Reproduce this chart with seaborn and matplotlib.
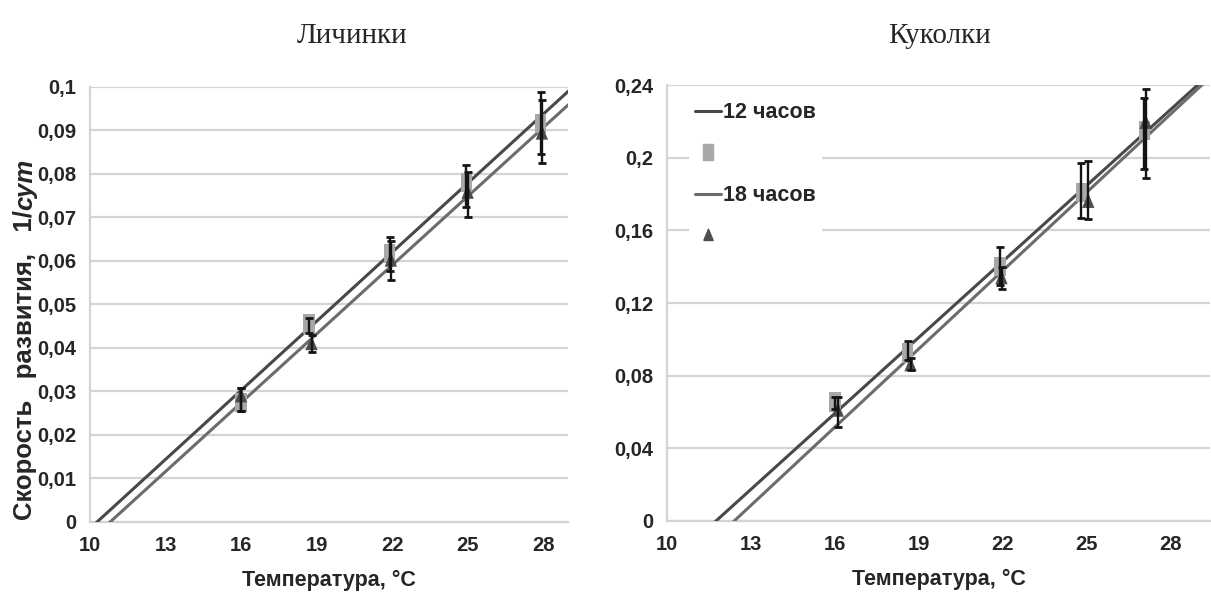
import numpy as np
import pandas as pd
import matplotlib.pyplot as plt
import seaborn as sns
from matplotlib.lines import Line2D
from matplotlib.ticker import MultipleLocator, FuncFormatter

sns.set_style('white')
plt.rcParams['font.family'] = ['Liberation Sans', 'DejaVu Sans']

# --- data ---
# larvae (Личинки): temperature, rate, error below / above
lar_t12 = [16.0, 18.7, 21.9, 24.95, 27.9]
lar_v12 = [0.0275, 0.0455, 0.0618, 0.078, 0.0917]
lar_lo12 = [0.002, 0.002, 0.004, 0.0055, 0.007]
lar_hi12 = [0.0033, 0.0015, 0.0037, 0.004, 0.0072]
lar_t18 = [16.0, 18.8, 21.95, 25.0, 27.95]
lar_v18 = [0.029, 0.041, 0.0602, 0.0758, 0.0894]
lar_lo18 = [0.0035, 0.002, 0.0046, 0.0057, 0.0069]
lar_hi18 = [0.0018, 0.002, 0.0045, 0.0047, 0.0076]
lar_zero = [10.28, 10.8]        # temperature threshold, 12 h / 18 h
lar_slope = [0.00529, 0.00527]

# pupae (Куколки)
pup_t12 = [16.0, 18.6, 21.9, 24.8, 27.05]
pup_v12 = [0.0655, 0.0925, 0.140, 0.181, 0.215]
pup_lo12 = [0.004, 0.004, 0.01, 0.014, 0.021]
pup_hi12 = [0.003, 0.0065, 0.011, 0.016, 0.018]
pup_t18 = [16.1, 18.7, 21.95, 25.05, 27.1]
pup_v18 = [0.061, 0.086, 0.134, 0.176, 0.2195]
pup_lo18 = [0.009, 0.003, 0.006, 0.0095, 0.0305]
pup_hi18 = [0.007, 0.004, 0.006, 0.022, 0.0185]
pup_zero = [11.75, 12.4]
pup_slope = [0.01395, 0.01437]

labels = ['12 часов', '18 часов']
x_ticks = [10, 13, 16, 19, 22, 25, 28]

C12 = '#484848'
C18 = '#6c6c6c'
SQ = '#a8a8a8'
TRI = '#4e4e4e'
GRID = '#d4d4d4'
BAR = '#141414'

# narrow markers, the original picture is squeezed sideways
RECT = [(-0.6, -1), (0.6, -1), (0.6, 1), (-0.6, 1), (-0.6, -1)]
TRIANGLE = [(-0.75, -0.8), (0.75, -0.8), (0, 1), (-0.75, -0.8)]

fig = plt.figure(figsize=(12.11, 6.02), dpi=100)
ax1 = fig.add_axes([0.0743, 0.1329, 0.3950, 0.7226])
ax2 = fig.add_axes([0.5508, 0.1346, 0.4484, 0.7240])


def comma(v, pos):
    s = f'{v:.2f}'.rstrip('0').rstrip('.')
    return s.replace('.', ',')


def panel(ax, t12, v12, lo12, hi12, t18, v18, lo18, hi18, zero, slope, xmax, ymax, ystep):
    ax.set_xlim(10, xmax)
    ax.set_ylim(0, ymax)
    xs = np.array([10, xmax])
    for z, k, c in zip(zero, slope, [C12, C18]):
        line = pd.DataFrame({'x': xs, 'y': k * (xs - z)})
        sns.lineplot(data=line, x='x', y='y', ax=ax, color=c, lw=2.2, zorder=3)
    d12 = pd.DataFrame({'t': t12, 'v': v12})
    d18 = pd.DataFrame({'t': t18, 'v': v18})
    sns.scatterplot(data=d12, x='t', y='v', ax=ax, marker=RECT, s=190, color=SQ,
                    edgecolor='none', zorder=4)
    sns.scatterplot(data=d18, x='t', y='v', ax=ax, marker=TRIANGLE, s=140, color=TRI,
                    edgecolor='none', zorder=5)
    ax.errorbar(t12, v12, yerr=[lo12, hi12], fmt='none', ecolor=BAR, elinewidth=1.7,
                capsize=3, capthick=2, zorder=6)
    ax.errorbar(t18, v18, yerr=[lo18, hi18], fmt='none', ecolor=BAR, elinewidth=1.7,
                capsize=3, capthick=2, zorder=6)
    ax.set_xticks(x_ticks)
    ax.xaxis.set_minor_locator(MultipleLocator(1.5))
    ax.yaxis.set_major_locator(MultipleLocator(ystep))
    ax.yaxis.set_minor_locator(MultipleLocator(ystep / 2))
    ax.yaxis.set_major_formatter(FuncFormatter(comma))
    ax.grid(axis='y', color=GRID, lw=1.6, zorder=0)
    ax.set_axisbelow(True)
    for side in ['top', 'right']:
        ax.spines[side].set_visible(False)
    for side in ['left', 'bottom']:
        ax.spines[side].set_color(GRID)
        ax.spines[side].set_linewidth(1.6)
    ax.tick_params(which='both', direction='out', color=GRID, width=1.3)
    ax.tick_params(which='major', length=6, labelsize=14.5, pad=4)
    ax.tick_params(which='minor', length=4)
    for lab in ax.get_xticklabels() + ax.get_yticklabels():
        lab.set_fontweight('bold')
    ax.set_xlabel('Температура, °C', fontsize=15.5, fontweight='bold', labelpad=11)
    ax.set_ylabel('')


panel(ax1, lar_t12, lar_v12, lar_lo12, lar_hi12, lar_t18, lar_v18, lar_lo18, lar_hi18,
      lar_zero, lar_slope, 29.0, 0.1, 0.01)
panel(ax2, pup_t12, pup_v12, pup_lo12, pup_hi12, pup_t18, pup_v18, pup_lo18, pup_hi18,
      pup_zero, pup_slope, 29.4, 0.24, 0.04)

# y label: plain part, then italic unit
ylab = fig.text(0.021, 0.137, 'Скорость   развития,   1/', rotation=90, ha='center',
                va='bottom', fontsize=18.5, fontweight='bold')
fig.canvas.draw()
bb = ylab.get_window_extent()
fig.text(0.021, bb.y1 / fig.bbox.height, 'сут', rotation=90, ha='center', va='bottom',
         fontsize=18.5, fontweight='bold', style='italic')

fig.text(0.291, 0.94, 'Личинки', ha='center', va='center', fontsize=21,
         family=['Liberation Serif', 'DejaVu Serif'])
fig.text(0.776, 0.94, 'Куколки', ha='center', va='center', fontsize=21,
         family=['Liberation Serif', 'DejaVu Serif'])

handles = [Line2D([], [], color=C12, lw=2.2),
           Line2D([], [], marker=RECT, ls='none', color=SQ, markersize=11),
           Line2D([], [], color=C18, lw=2.2),
           Line2D([], [], marker=TRIANGLE, ls='none', color=TRI, markersize=9)]
leg = ax2.legend(handles, [labels[0], ' ', labels[1], ' '], loc='upper left',
                 bbox_to_anchor=(0.02, 1.0), frameon=True, framealpha=1,
                 edgecolor='none', facecolor='white', handlelength=1.2,
                 handletextpad=0.1, labelspacing=0.95, borderpad=0.3,
                 prop={'size': 15.5, 'weight': 'bold'})

fig.savefig('out.png', dpi=100)
